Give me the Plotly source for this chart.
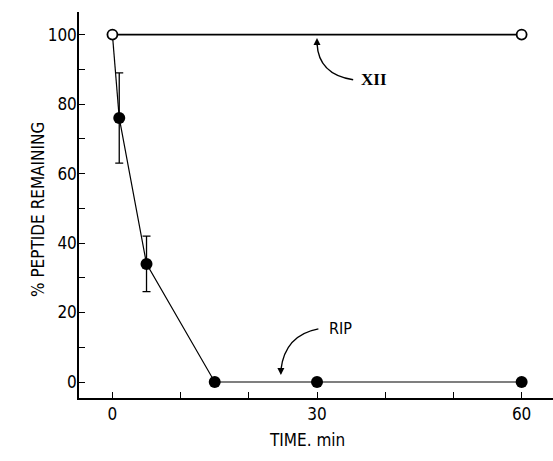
import plotly.graph_objects as go

# Data
rip_time = [0, 1, 5, 15, 30, 60]
rip_pct = [100, 76, 34, 0, 0, 0]
rip_err = [0, 13, 8, 0, 0, 0]
xii_time = [0, 60]
xii_pct = [100, 100]

x_tickvals = [0, 10, 20, 30, 40, 50, 60]
x_ticktext = ["0", "", "", "30", "", "", "60"]
y_tickvals = [0, 10, 20, 30, 40, 50, 60, 70, 80, 90, 100]
y_ticktext = ["0", "", "20", "", "40", "", "60", "", "80", "", "100"]

FONT = "DejaVu Sans Condensed, Liberation Sans Narrow, sans-serif"

fig = go.Figure()

# RIP line (filled)
fig.add_trace(go.Scatter(
    x=rip_time[1:], y=rip_pct[1:], mode="lines+markers",
    line=dict(color="black", width=1.2),
    marker=dict(size=12, color="black"),
    error_y=dict(type="data", array=rip_err[1:], color="black", thickness=1.3, width=4, visible=True),
    showlegend=False,
))
# connection from t=0 to first RIP point
fig.add_trace(go.Scatter(
    x=rip_time[:2], y=rip_pct[:2], mode="lines",
    line=dict(color="black", width=1.2), showlegend=False,
))
# XII (open)
fig.add_trace(go.Scatter(
    x=xii_time, y=xii_pct, mode="lines+markers",
    line=dict(color="black", width=1.6),
    marker=dict(size=10, color="white", line=dict(color="black", width=1.8)),
    showlegend=False,
))

# curved arrows
fig.add_shape(type="path", path="M 35.3 87 Q 30.2 88.5 30.0 97.5",
              xref="x", yref="y", line=dict(color="black", width=1.4))
fig.add_annotation(x=30.0, y=99.0, ax=30.0, ay=96.5, xref="x", yref="y", axref="x", ayref="y",
                   text="", showarrow=True, arrowhead=2, arrowsize=1, arrowwidth=1.4, arrowcolor="black")
fig.add_annotation(x=38.4, y=87, text="<b>XII</b>", showarrow=False, xref="x", yref="y",
                   font=dict(family="Liberation Serif, DejaVu Serif, serif", size=17, color="black"))

fig.add_shape(type="path", path="M 30.2 15.3 Q 25.3 13.5 24.7 3.5",
              xref="x", yref="y", line=dict(color="black", width=1.4))
fig.add_annotation(x=24.7, y=2.0, ax=24.7, ay=4.5, xref="x", yref="y", axref="x", ayref="y",
                   text="", showarrow=True, arrowhead=2, arrowsize=1, arrowwidth=1.4, arrowcolor="black")
fig.add_annotation(x=33.4, y=15.3, text="RIP", showarrow=False, xref="x", yref="y",
                   font=dict(family=FONT, size=16, color="black"))

W, H = 553, 461
L, R, T, B = 79, 0, 12, H - 398
pw, ph = W - L - R, H - T - B

def paper_xy(px, py):
    return (px - L) / pw, (H - B - py) / ph

# axis titles (positions given in page pixels)
ax_, ay_ = paper_xy(307, 452)
fig.add_annotation(x=ax_, y=ay_, xref="paper", yref="paper", text="TIME. min", showarrow=False,
                   font=dict(family=FONT, size=17, color="black"))
ax_, ay_ = paper_xy(26, 210)
fig.add_annotation(x=ax_, y=ay_, xref="paper", yref="paper", text="% PEPTIDE REMAINING",
                   showarrow=False, textangle=-90, font=dict(family=FONT, size=17, color="black"))

fig.update_layout(
    width=W, height=H,
    margin=dict(l=L, r=R, t=T, b=B, autoexpand=False),
    plot_bgcolor="white", paper_bgcolor="white",
    font=dict(family=FONT, size=17, color="black"),
    xaxis=dict(
        range=[-4.9, 64.6], tickvals=x_tickvals, ticktext=x_ticktext,
        ticks="inside", ticklen=6, tickwidth=1.3, tickcolor="black",
        showline=True, linecolor="black", linewidth=1.5, showgrid=False, zeroline=False,
        automargin=False,
    ),
    yaxis=dict(
        range=[-4.6, 106.5], tickvals=y_tickvals, ticktext=y_ticktext,
        ticks="inside", ticklen=6, tickwidth=1.3, tickcolor="black",
        showline=True, linecolor="black", linewidth=1.5, showgrid=False, zeroline=False,
        automargin=False, ticklabelstandoff=-3,
    ),
)

fig.write_html("out.html", config={"displayModeBar": False},
               post_script="document.body.style.margin='0';")
